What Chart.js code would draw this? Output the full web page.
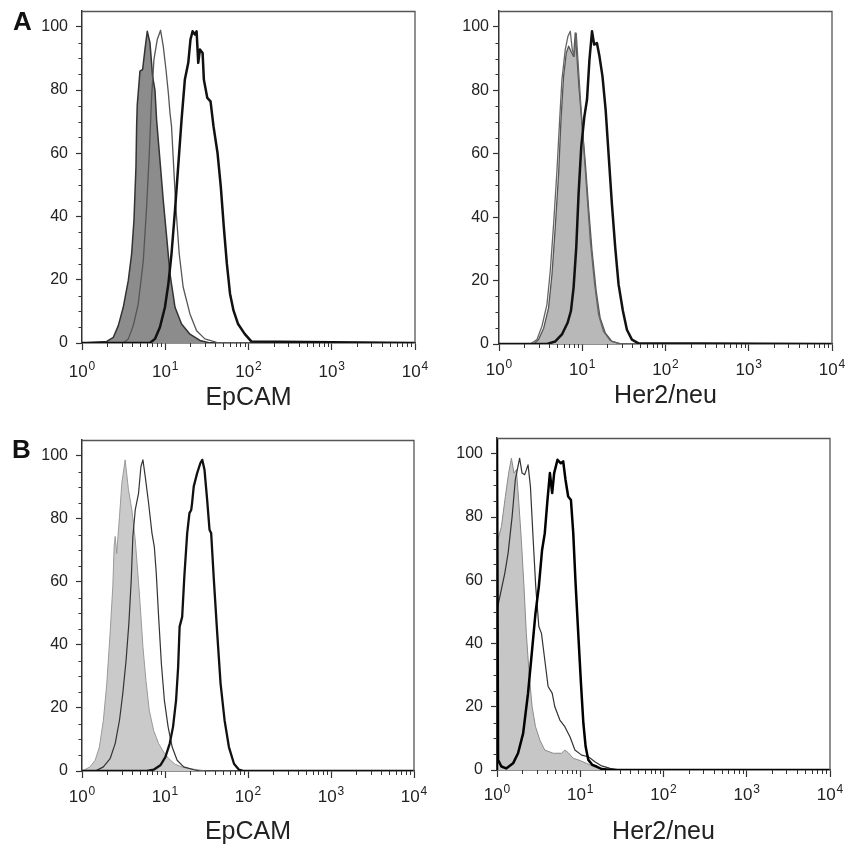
<!DOCTYPE html>
<html><head><meta charset="utf-8">
<script src="https://cdn.jsdelivr.net/npm/chart.js@4.4.0/dist/chart.umd.min.js"></script>
<style>
html,body{margin:0;padding:0;background:#fff;}
#wrap{position:relative;width:858px;height:847px;overflow:hidden;background:#fff;}
canvas{position:absolute;}
</style></head><body>
<div id="wrap">
<canvas id="c0" width="429" height="420" style="left:0;top:0"></canvas>
<canvas id="c1" width="429" height="420" style="left:429px;top:0"></canvas>
<canvas id="c2" width="429" height="424" style="left:0;top:423px"></canvas>
<canvas id="c3" width="429" height="424" style="left:429px;top:423px"></canvas>
</div>
<script>
// ---- tick labels / titles ----
const xExponents = [0, 1, 2, 3, 4];
const yTickValues = [0, 20, 40, 60, 80, 100];
const xTitles = ['EpCAM', 'Her2/neu', 'EpCAM', 'Her2/neu'];
const panelLetters = ['A', '', 'B', ''];

// ---- A, EpCAM ----
const tlIsoX = [1, 1.98, 2.38, 2.73, 3.13, 3.60, 3.94, 4.21, 4.45, 4.53, 4.61, 4.97, 5.35, 5.70, 6.08, 6.55, 7.05, 7.52, 7.87, 8.63, 9.46, 10.4, 11.4, 13.1, 15.7, 19.8, 26.1, 34.4, 10000];
const tlIsoY = [0, 0.5, 1.8, 5.5, 11.3, 19.8, 28, 38.8, 55.8, 68.5, 75.3, 86, 86.5, 92.8, 98.6, 95, 84.3, 80, 70.6, 57.9, 45.2, 33.5, 21.9, 11.3, 6, 2.8, 0.8, 0, 0];
const tlCtlX = [1, 3.13, 3.60, 4.13, 4.74, 5.45, 5.97, 6.43, 6.86, 7.31, 8.02, 8.79, 9.46, 10.2, 10.9, 11.4, 11.9, 12.5, 13.4, 14.7, 16.4, 19.8, 23.8, 29.9, 41.3, 10000];
const tlCtlY = [0, 0, 1.3, 5.5, 12.4, 26, 43, 60, 78, 89.6, 96, 98.9, 93.9, 86.5, 79, 72.7, 68.5, 57.9, 43, 28.3, 17.7, 9.2, 3.9, 1.3, 0.2, 0];
const tlAbX = [1, 6.55, 7.52, 8.63, 9.91, 10.9, 11.9, 13.1, 14.3, 15.7, 17.2, 18.9, 20.1, 21.3, 22.7, 23.8, 24.9, 26.1, 28.1, 29.1, 32, 35, 38, 42.5, 46.5, 50.5, 55, 60, 66, 75, 90, 108, 10000];
const tlAbY = [0, 0, 1.3, 5, 11.3, 18.7, 28.3, 42, 55.8, 70.6, 83.3, 88.6, 96, 98.6, 97.6, 98.6, 88.6, 92.8, 91.7, 83.3, 77.5, 76.4, 68.5, 60, 49.4, 36.7, 25, 15.6, 10.3, 6, 2.9, 0.5, 0];

// ---- A, Her2/neu ----
const trIsoX = [1, 2.61, 2.99, 3.44, 3.94, 4.33, 4.74, 5.20, 5.55, 5.97, 6.43, 6.86, 7.31, 7.87, 8.24, 8.63, 9.12, 9.91, 10.9, 11.9, 13.1, 14.7, 16.4, 18.9, 22.7, 28.6, 10000];
const trIsoY = [0, 0, 1.4, 5, 11.4, 22, 36.8, 53.7, 70.6, 84.4, 91.8, 93.9, 92.3, 90.7, 98.1, 90.7, 81.2, 69.6, 56.9, 43.1, 29.4, 16.7, 8.2, 3.5, 0.8, 0.1, 0];
const trCtlX = [1, 2.38, 2.86, 3.28, 3.77, 4.13, 4.53, 4.97, 5.35, 5.70, 6.25, 6.73, 7.18, 7.59, 8.02, 8.47, 8.87, 9.46, 10.4, 11.4, 12.5, 14.1, 15.7, 18.0, 21.7, 27.3, 10000];
const trCtlY = [0, 0, 1.4, 5.6, 12.5, 23, 37.8, 54.8, 70.6, 83.3, 92.8, 97, 98.6, 92.8, 90.7, 98, 89.6, 78, 62.2, 47.4, 32.6, 18.8, 9.3, 4, 1.1, 0.1, 0];
const trAbX = [1, 3.77, 4.74, 5.70, 6.67, 7.31, 7.87, 8.47, 9.04, 9.73, 10.6, 11.4, 12.2, 13.1, 13.9, 15.0, 16.1, 17.5, 19.1, 20.7, 22.7, 24.9, 27.3, 30.8, 34.4, 39.5, 47.4, 10000];
const trAbY = [0, 0, 0.8, 3, 6.7, 10.4, 17.8, 30.4, 47.4, 62.2, 71.7, 77, 89.6, 98.6, 94.4, 94.9, 90.7, 84.4, 73.8, 60, 44.2, 30.4, 18.8, 10.4, 4.5, 1.4, 0.2, 0];

// ---- B, EpCAM ----
const blIsoX = [1, 1.04, 1.25, 1.44, 1.62, 1.81, 1.99, 2.18, 2.35, 2.44, 2.51, 2.62, 2.83, 3.02, 3.31, 3.63, 3.99, 4.38, 4.71, 5.04, 5.42, 5.89, 6.46, 7.29, 8.38, 9.64, 11.1, 13.3, 16.8, 24.4, 32.2, 10000];
const blIsoY = [0, 0.2, 1.3, 3.4, 7.6, 16.1, 27.8, 43.6, 58.5, 71.2, 74.4, 69, 80.7, 91.3, 98.7, 89.2, 82.8, 73.3, 62.7, 52.1, 39.4, 28.8, 19.3, 12.9, 8.7, 6, 3.9, 2.1, 1.1, 0.4, 0, 0];
const blCtlX = [1, 1.50, 1.81, 2.18, 2.51, 2.83, 3.10, 3.40, 3.67, 3.92, 4.10, 4.38, 4.80, 5.13, 5.42, 5.78, 6.34, 6.97, 7.43, 7.85, 8.38, 9.04, 9.82, 10.9, 12.2, 14.0, 16.8, 22.2, 26.7, 10000];
const blCtlY = [0, 0.2, 1.3, 3.9, 8.7, 16.1, 24.6, 35.2, 46.8, 60.6, 74.4, 82.8, 88.1, 96.6, 98.7, 93.4, 85, 75.4, 71.2, 62.7, 48.9, 34.1, 22.5, 14, 7.6, 3.4, 1.3, 0.4, 0, 0];
const blAbX = [1, 6.05, 7.29, 8.79, 10.1, 11.4, 12.5, 13.6, 14.4, 15.0, 16.1, 17.1, 18.5, 19.7, 20.7, 21.2, 22.2, 24.4, 26.7, 28.1, 29.9, 32.2, 34.4, 36.0, 38.8, 42.6, 46.7, 52.2, 58.9, 67.8, 77.8, 89.5, 10000];
const blAbY = [0, 0, 0.4, 1.8, 4.4, 8.7, 14, 22.5, 33, 45.8, 48.9, 61.7, 75.4, 81.8, 82.8, 85, 90.3, 94.5, 97.7, 98.7, 95.6, 86, 76.5, 75.4, 60.6, 43.6, 27.8, 16.1, 7.6, 2.3, 0.4, 0, 0];

// ---- B, Her2/neu ----
const brIsoX = [1.00, 1.13, 1.26, 1.38, 1.49, 1.60, 1.71, 1.82, 1.96, 2.11, 2.25, 2.43, 2.64, 2.90, 3.27, 3.75, 4.73, 5.96, 6.53, 7.16, 8.24, 9.91, 11.9, 14.4, 18.1, 26.2, 10000];
const brIsoY = [71.7, 77, 86.5, 93.9, 98.6, 93.9, 95, 85.4, 72.8, 58, 43.2, 30.6, 20, 13.7, 9.5, 6.3, 5.3, 5.3, 6.3, 5.5, 3.7, 3, 2.1, 1.1, 0.3, 0, 0];
const brCtlX = [1.00, 1.24, 1.36, 1.52, 1.66, 1.87, 2.00, 2.15, 2.36, 2.52, 2.72, 2.92, 3.18, 3.42, 3.75, 4.11, 4.60, 4.95, 5.69, 6.53, 7.52, 8.63, 10.4, 12.5, 15.0, 18.1, 22.8, 30.1, 10000];
const brCtlY = [50.6, 62.2, 68.6, 80.2, 91.8, 98.6, 93.9, 93.4, 96.5, 89.7, 72.8, 58, 45.4, 43.2, 34.8, 26.4, 24.3, 20, 15.8, 13.7, 10.5, 6.3, 4.7, 4.2, 2.6, 1.3, 0.5, 0, 0];
const brAbX = [1, 1, 1.03, 1.13, 1.29, 1.56, 1.79, 2.06, 2.36, 2.64, 2.90, 3.18, 3.48, 3.75, 4.04, 4.32, 4.60, 4.86, 5.33, 5.85, 6.24, 6.65, 7.16, 7.73, 8.24, 8.79, 9.46, 10.2, 10.9, 11.6, 12.5, 14.0, 15.7, 18.1, 23.9, 10000];
const brAbY = [0, 105, 3.2, 1.1, 0.5, 2.1, 5.3, 11.6, 24.3, 38, 49.6, 58, 69.6, 74.9, 85.4, 93.9, 87.6, 93.9, 98.1, 97, 97.6, 91.8, 86.5, 85.4, 74.9, 59, 43.2, 27.4, 14.8, 7.4, 3.2, 1.6, 1.1, 0.3, 0, 0];

const FONT = '"Liberation Sans", Arial, Helvetica, sans-serif';
function pts(xs, ys) { return xs.map((x, i) => ({ x: x, y: ys[i] })); }
function noPad(s) { s.paddingTop = 0; s.paddingBottom = 0; s.paddingLeft = 0; s.paddingRight = 0; }

const framePlugin = {
  id: 'frame',
  afterDraw(chart, args, o) {
    const ctx = chart.ctx, a = chart.chartArea, xs = chart.scales.x, ys = chart.scales.y;
    ctx.save();
    ctx.strokeStyle = '#555'; ctx.lineWidth = 1.3;
    ctx.beginPath();
    ctx.moveTo(a.left, a.top + 0.5); ctx.lineTo(a.right, a.top + 0.5); ctx.lineTo(a.right, a.bottom);
    ctx.stroke();
    ctx.strokeStyle = '#333'; ctx.lineWidth = 1;
    for (let v = 5; v < 105; v += 5) {
      if (v % 20 === 0) continue;
      const py = Math.round(ys.getPixelForValue(v)) + 0.5;
      ctx.beginPath(); ctx.moveTo(a.left - 3.5, py); ctx.lineTo(a.left, py); ctx.stroke();
    }
    for (let e = 0; e < 4; e++) for (let m = 2; m <= 9; m++) {
      const px = Math.round(xs.getPixelForValue(m * Math.pow(10, e))) + 0.5;
      ctx.beginPath(); ctx.moveTo(px, a.bottom); ctx.lineTo(px, a.bottom + 4); ctx.stroke();
    }
    ctx.fillStyle = '#222'; ctx.textAlign = 'left'; ctx.textBaseline = 'alphabetic';
    xExponents.forEach(e => {
      const px = xs.getPixelForValue(Math.pow(10, e));
      ctx.font = '17px ' + FONT; const w1 = ctx.measureText('10').width;
      ctx.font = '12px ' + FONT; const w2 = ctx.measureText(String(e)).width;
      const x0 = px - (w1 + w2 + 1) / 2;
      ctx.font = '17px ' + FONT; ctx.fillText('10', x0, a.bottom + o.labelDy);
      ctx.font = '12px ' + FONT; ctx.fillText(String(e), x0 + w1 + 1, a.bottom + o.labelDy - 7);
    });
    if (o.letter) {
      ctx.font = 'bold 26px ' + FONT; ctx.fillStyle = '#111';
      ctx.fillText(o.letter, o.letterX, o.letterY);
    }
    ctx.restore();
  }
};

const panels = [
  { id: 'c0', iso: [tlIsoX, tlIsoY], ctl: [tlCtlX, tlCtlY], ab: [tlAbX, tlAbY],
    isoFill: '#8c8c8c', isoLine: '#333', isoW: 1.5, ctlColor: '#555', ctlW: 1.3, abColor: '#111', abW: 2.5,
    padTop: 11, yW: 82, padRight: 14, xH: 77, titlePad: 7, labelDy: 34, yPad: 8, letterX: 13, letterY: 30 },
  { id: 'c1', iso: [trIsoX, trIsoY], ctl: [trCtlX, trCtlY], ab: [trAbX, trAbY],
    isoFill: '#b8b8b8', isoLine: '#555', isoW: 1.3, ctlColor: '#666', ctlW: 1.3, abColor: '#111', abW: 2.5,
    padTop: 11, yW: 70, padRight: 26, xH: 76, titlePad: 9, labelDy: 31, yPad: 4, letterX: 0, letterY: 0 },
  { id: 'c2', iso: [blIsoX, blIsoY], ctl: [blCtlX, blCtlY], ab: [blAbX, blAbY],
    isoFill: '#cacaca', isoLine: '#999', isoW: 1, ctlColor: '#333', ctlW: 1.2, abColor: '#111', abW: 2.3,
    padTop: 17, yW: 82, padRight: 15, xH: 76, titlePad: 0, labelDy: 31, yPad: 8, letterX: 12, letterY: 35 },
  { id: 'c3', iso: [brIsoX, brIsoY], ctl: [brCtlX, brCtlY], ab: [brAbX, brAbY],
    isoFill: '#c6c6c6', isoLine: '#8a8a8a', isoW: 1, ctlColor: '#333', ctlW: 1.2, abColor: '#000', abW: 2.5,
    padTop: 15, yW: 68, padRight: 28, xH: 77, titlePad: 0, labelDy: 30, yPad: 8, letterX: 0, letterY: 0 }
];

panels.forEach((p, i) => {
  new Chart(document.getElementById(p.id), {
    type: 'line',
    data: { datasets: [
      { data: pts(p.ab[0], p.ab[1]), borderColor: p.abColor, borderWidth: p.abW, fill: false, order: 1 },
      { data: pts(p.ctl[0], p.ctl[1]), borderColor: p.ctlColor, borderWidth: p.ctlW, fill: false, order: 2 },
      { data: pts(p.iso[0], p.iso[1]), borderColor: p.isoLine, backgroundColor: p.isoFill, borderWidth: p.isoW, fill: 'origin', order: 3 }
    ] },
    options: {
      responsive: false, animation: false, devicePixelRatio: 1,
      elements: { point: { radius: 0 }, line: { tension: 0, borderJoinStyle: 'round' } },
      layout: { padding: { left: 0, top: p.padTop, right: p.padRight, bottom: 0 } },
      plugins: { legend: { display: false }, tooltip: { enabled: false },
        frame: { labelDy: p.labelDy, letter: panelLetters[i], letterX: p.letterX, letterY: p.letterY } },
      scales: {
        x: { type: 'logarithmic', min: 1, max: 10000,
          afterBuildTicks: s => { s.ticks = xExponents.map(e => ({ value: Math.pow(10, e) })); },
          ticks: { callback: () => '', autoSkip: false, maxRotation: 0 },
          grid: { drawOnChartArea: false, tickLength: 7, tickColor: '#333', tickWidth: 1.2 },
          border: { color: '#222', width: 1.5 },
          title: { display: true, text: xTitles[i], color: '#222', font: { family: FONT, size: 25 }, padding: { top: 0, bottom: p.titlePad } },
          afterFit: s => { s.height = p.xH; noPad(s); } },
        y: { min: 0, max: 105,
          afterBuildTicks: s => { s.ticks = yTickValues.map(v => ({ value: v })); },
          ticks: { font: { family: FONT, size: 16 }, color: '#222', padding: p.yPad },
          grid: { drawOnChartArea: false, tickLength: 6, tickColor: '#333', tickWidth: 1.2 },
          border: { color: '#333', width: 1.5 },
          afterFit: s => { s.width = p.yW; noPad(s); } }
      }
    },
    plugins: [framePlugin]
  });
});
</script>
</body></html>
